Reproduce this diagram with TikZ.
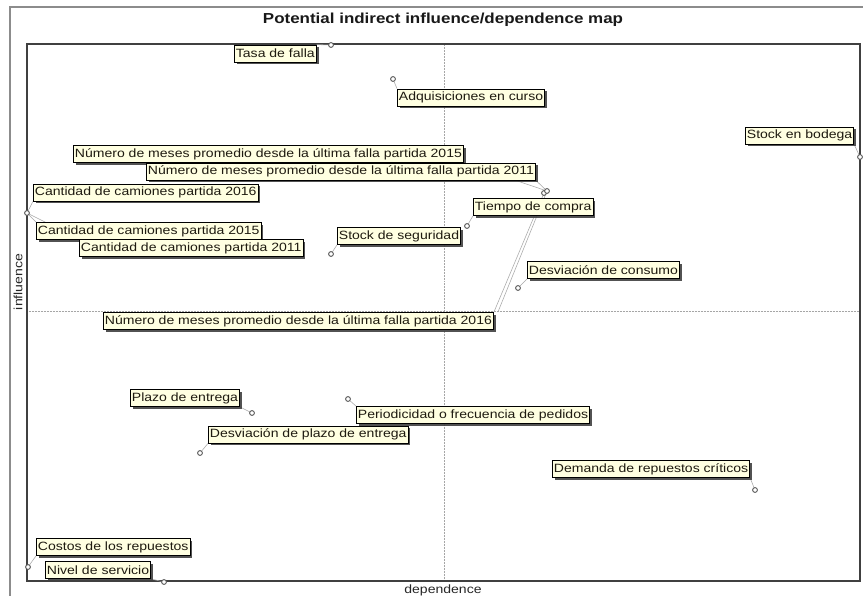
\documentclass[tikz,border=0pt]{standalone}
\usepackage{fontspec}
\setmainfont{Liberation Sans}[FakeStretch=1.17]
\usetikzlibrary{shadows}
\pgfdeclarelayer{frame}
\pgfdeclarelayer{leaders}
\pgfsetlayers{frame,leaders,main}
\definecolor{tipfill}{HTML}{FFFFE1}
\definecolor{tiptext}{HTML}{1E1A10}
\definecolor{leader}{HTML}{A8A8A8}
\begin{document}
\begin{tikzpicture}[x=1pt,y=-1pt,
  lbl/.style={draw=black,line width=0.8pt,fill=tipfill,text=tiptext,
    font=\fontsize{12}{13}\selectfont,anchor=west,inner xsep=1.5pt,inner ysep=0pt,
    minimum height=17pt,
    drop shadow={shadow xshift=2.4pt,shadow yshift=-2.4pt,fill=black!75,opacity=0.9}},
  pt/.style={circle,draw=black!65,fill=white,line width=0.9pt,inner sep=0pt,minimum size=4.8pt},
  lead/.style={draw=leader,line width=0.55pt},
  guide/.style={draw=black!35,line width=0.5pt,densely dotted},
  axislabel/.style={font=\fontsize{12}{13}\selectfont,text=black!85}]
\useasboundingbox (0,0) rectangle (863,596);
\begin{pgfonlayer}{frame}
\fill[white] (0,0) rectangle (863,596);
% window border
\draw[black!45,line width=2.5pt] (10,596) -- (10,7) -- (863,7);
% plot area and quadrant guides
\coordinate (tl) at (27,44);
\coordinate (br) at (860,581);
\draw[guide] (444,44) -- (444,581);
\draw[guide] (27,311) -- (860,311);
\draw[black!75,line width=1.2pt] (tl) rectangle (br);
\end{pgfonlayer}
% title and axis names
\node[font=\fontsize{14.5}{16}\bfseries,text=black!90] (title) at (443,20) {Potential indirect influence/dependence map};
\node[axislabel] (xlab) at (443,590) {dependence};
\node[axislabel,rotate=90] (ylab) at (18,282) {influence};
% points
\node[pt] (pTasa) at (331,45) {};
\node[pt] (pAdq) at (393,79) {};
\node[pt] (pBodega) at (860,157) {};
\node[pt] (pMeses16) at (544,193) {};
\node[pt] (pMeses) at (547,191) {};
\node[pt] (pCam) at (27,213) {};
\node[pt] (pTiempo) at (467,226) {};
\node[pt] (pSeg) at (331,254) {};
\node[pt] (pConsumo) at (518,288) {};
\node[pt] (pPlazo) at (252,413) {};
\node[pt] (pPeriod) at (348,399) {};
\node[pt] (pDesvPlazo) at (200,453) {};
\node[pt] (pDemanda) at (755,490) {};
\node[pt] (pCostos) at (28,567) {};
\node[pt] (pNivel) at (164,582) {};
% labels
\node[lbl] (lTasa) at (234,53.5) {Tasa de falla};
\node[lbl] (lAdq) at (397,97.5) {Adquisiciones en curso};
\node[lbl] (lBodega) at (745,135.5) {Stock en bodega};
\node[lbl] (lM15) at (73,154) {Número de meses promedio desde la última falla partida 2015};
\node[lbl] (lM11) at (146,171.5) {Número de meses promedio desde la última falla partida 2011};
\node[lbl] (lC16) at (33,192.5) {Cantidad de camiones partida 2016};
\node[lbl] (lTiempo) at (473,207) {Tiempo de compra};
\node[lbl] (lC15) at (36,231) {Cantidad de camiones partida 2015};
\node[lbl] (lSeg) at (337,236) {Stock de seguridad};
\node[lbl] (lC11) at (79,248) {Cantidad de camiones partida 2011};
\node[lbl] (lConsumo) at (527,270) {Desviación de consumo};
\node[lbl] (lM16) at (103,321) {Número de meses promedio desde la última falla partida 2016};
\node[lbl] (lPlazo) at (130,398) {Plazo de entrega};
\node[lbl] (lPeriod) at (356,415) {Periodicidad o frecuencia de pedidos};
\node[lbl] (lDesvPlazo) at (208,434.5) {Desviación de plazo de entrega};
\node[lbl] (lDemanda) at (552,469) {Demanda de repuestos críticos};
\node[lbl] (lCostos) at (36,547) {Costos de los repuestos};
\node[lbl] (lNivel) at (45,570) {Nivel de servicio};
% leaders, kept beneath the labels and points
\begin{pgfonlayer}{leaders}
\draw[lead] (lTasa.north east) -- (pTasa.center);
\draw[lead] (lAdq.north west) -- (pAdq.center);
\draw[lead] (lBodega.south east) -- (pBodega.center);
\draw[lead] (lM15.south east) -- (pMeses.center);
\draw[lead] (lM11.south east) -- (pMeses.center);
\draw[lead] (lM16.north east) -- (pMeses16.center);
\draw[lead] ([xshift=4pt]lM16.north east) -- (pMeses.center);
\draw[lead] (lC16.south west) -- (pCam.center);
\draw[lead] (lC15.north west) -- (pCam.center);
\draw[lead] (lC11.north west) -- (pCam.center);
\draw[lead] (lTiempo.south west) -- (pTiempo.center);
\draw[lead] (lSeg.south west) -- (pSeg.center);
\draw[lead] (lConsumo.south west) -- (pConsumo.center);
\draw[lead] (lPlazo.south east) -- (pPlazo.center);
\draw[lead] (lPeriod.north west) -- (pPeriod.center);
\draw[lead] (lDesvPlazo.south west) -- (pDesvPlazo.center);
\draw[lead] (lDemanda.south east) -- (pDemanda.center);
\draw[lead] (lCostos.south west) -- (pCostos.center);
\draw[lead] (lNivel.south east) -- (pNivel.center);
\end{pgfonlayer}
\end{tikzpicture}
\end{document}
